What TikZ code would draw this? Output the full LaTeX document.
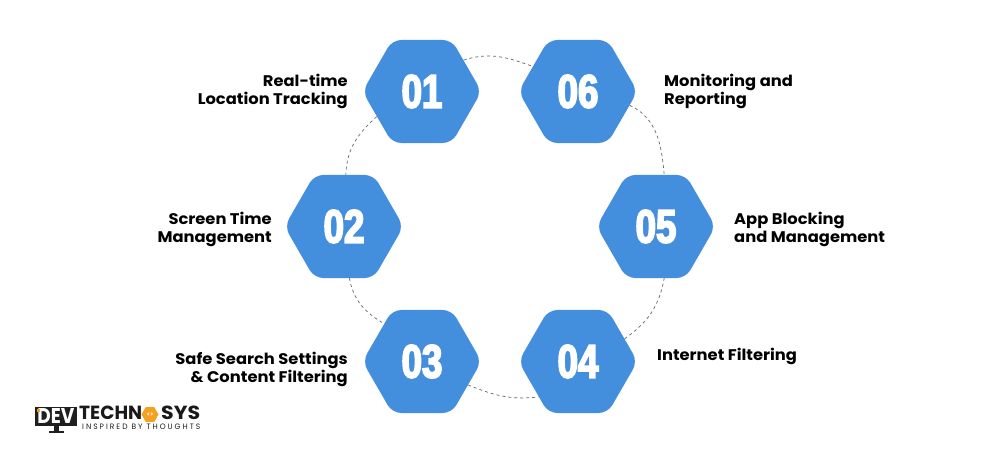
\documentclass[tikz,border=0pt]{standalone}
\usepackage{fontspec}
\setmainfont{Poppins}[BoldFont={Poppins Bold},BoldFeatures={FakeStretch=1.06}]
\newfontfamily\digfont[FakeBold=3.6,FakeStretch=0.78]{Liberation Sans Bold}
\usetikzlibrary{shapes.geometric,backgrounds}
\definecolor{hexblue}{HTML}{448EDE}
\definecolor{logoorange}{HTML}{F5A11F}
\tikzset{
  hexnode/.style={regular polygon,regular polygon sides=6,minimum size=119pt,inner sep=0pt,
    fill=hexblue,rounded corners=9pt,text=white,font=\digfont\fontsize{47}{47}\selectfont},
  lbl/.style={inner sep=0pt,font=\bfseries\fontsize{15.4}{18}\selectfont,text=black},
  lblr/.style={lbl,align=right,anchor=east},
  lbll/.style={lbl,align=left,anchor=west},
  ring/.style={draw=black!60,line width=0.7pt,dash pattern=on 3pt off 3pt},
  logotext/.style={inner sep=0pt,text=black!90},
}
\begin{document}
\begin{tikzpicture}[x=1pt,y=1pt]
\useasboundingbox (0,0) rectangle (1000,454);
\node[hexnode] (h1) at (422,362.5) {01};
\node[hexnode] (h6) at (578,362.5) {06};
\node[hexnode] (h2) at (344,227.5) {02};
\node[hexnode] (h5) at (656,227.5) {05};
\node[hexnode] (h3) at (422,92.5) {03};
\node[hexnode] (h4) at (578,92.5) {04};
\begin{scope}[on background layer]
\draw[ring] (h1.37) to[out=18,in=160] (h6.151);
\draw[ring] (h1.209) to[out=222,in=88] (h2.88);
\draw[ring] (h6.-15) to[out=-25,in=95] (h5.81);
\draw[ring] (h2.-84) to[out=-80,in=150] (h3.135);
\draw[ring] (h3.-27) to[out=-22,in=187] (h4.222);
\draw[ring] (h4.26.5) to[out=35,in=-100] (h5.-81);
\end{scope}
\node[lblr] (t1) at (348,362.5) {Real-time\\Location Tracking};
\node[lblr] (t2) at (272,224.5) {Screen Time\\Management};
\node[lblr] (t3) at (348,84.5) {Safe Search Settings\\\& Content Filtering};
\node[lbll] (t6) at (664,362.5) {Monitoring and\\Reporting};
\node[lbll] (t5) at (734,224.5) {App Blocking\\and Management};
\node[lbll] (t4) at (657,97.5) {Internet Filtering};
% logo
\node[fill=black!88,minimum width=42pt,minimum height=19pt,inner sep=0pt] (lg) at (56,37.5) {};
\node[inner sep=0pt,text=white] (lgd) at (lg.center) {\resizebox{37pt}{15pt}{\textbf{DEV}}};
\fill[logoorange] (lg.north west) ++(2,-2) rectangle ++(3,-3);
\fill[black!88] (lg.south) ++(-2.5,0) rectangle ++(5,-5);
\fill[black!88] (lg.south) ++(-7.5,-5) rectangle ++(15,-2);
\node[logotext,anchor=south west] (lgt) at (79,34) {\resizebox{63pt}{13.5pt}{\textbf{TECHN}}};
\node[regular polygon,regular polygon sides=6,fill=logoorange,minimum size=17pt,inner sep=0pt,text=white,font=\bfseries\fontsize{6}{6}\selectfont] (lgh) at (150,39.5) {<>};
\node[logotext,anchor=south west] (lgs) at (161,34) {\resizebox{39pt}{13.5pt}{\textbf{SYS}}};
\node[logotext,anchor=south west] (lgb) at (82,24.5) {\resizebox{118pt}{5.5pt}{I N S P I R E D\ \ B Y\ \ T H O U G H T S}};
\end{tikzpicture}
\end{document}
